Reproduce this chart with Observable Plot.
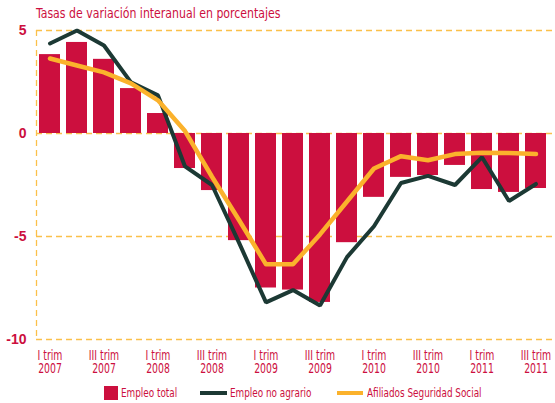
<!DOCTYPE html>
<html><head><meta charset="utf-8">
<script src="https://cdn.jsdelivr.net/npm/d3@7"></script>
<script src="https://cdn.jsdelivr.net/npm/@observablehq/plot@0.6"></script>
<style>
body{margin:0;background:#fff}
#wrap{position:relative;width:555px;height:403px;font-family:"DejaVu Sans Condensed","Liberation Sans Narrow",sans-serif;color:#cc0f3e}
#title{position:absolute;left:36px;top:5px;font-size:14.5px;white-space:nowrap;transform:scaleX(0.84);transform-origin:0 0}
#legend{position:absolute;top:385px;left:0;width:555px;height:16px;font-size:12px}
.li{position:absolute;top:0;white-space:nowrap;line-height:16px;transform:scaleX(0.82);transform-origin:0 0}
.sw{position:absolute}
svg{position:absolute;left:0;top:0}
</style></head>
<body><div id="wrap"><div id="title">Tasas de variación interanual en porcentajes</div></div>
<script>
const trimestres = ["I","II","III","IV","I","II","III","IV","I","II","III","IV","I","II","III","IV","I","II","III"];
const anios = ["2007","2007","2007","2007","2008","2008","2008","2008","2009","2009","2009","2009","2010","2010","2010","2010","2011","2011","2011"];
const empleoTotal = [3.83, 4.42, 3.6, 2.18, 0.97, -1.7, -2.77, -5.2, -7.5, -7.6, -8.2, -5.3, -3.1, -2.13, -2.04, -1.55, -2.72, -2.86, -2.67];
const empleoNoAgrario = [4.37, 5.0, 4.27, 2.48, 1.85, -1.6, -2.5, -5.3, -8.2, -7.6, -8.35, -6.0, -4.5, -2.4, -2.06, -2.5, -1.15, -3.28, -2.45];
const afiliados = [3.64, 3.3, 2.97, 2.43, 1.61, 0.12, -2.1, -4.2, -6.35, -6.35, -4.9, -3.3, -1.7, -1.1, -1.3, -1.0, -0.93, -0.95, -1.0];
const yTicks = [5, 0, -5, -10];
const series = ["Empleo total", "Empleo no agrario", "Afiliados Seguridad Social"];

const periodos = trimestres.map((t, i) => `${t} trim\n${anios[i]}`);
const xTicks = periodos.filter((p, i) => trimestres[i] === "I" || trimestres[i] === "III");

const RED = "#cc0f3e", GREEN = "#1c3934", YELLOW = "#fbb22c", GRID = "#fbc04a";
const FONT = '"DejaVu Sans Condensed","Liberation Sans Narrow",sans-serif';

const chart = Plot.plot({
  width: 555, height: 403,
  marginTop: 30, marginBottom: 64, marginLeft: 36, marginRight: 5,
  style: {fontFamily: FONT, background: "transparent"},
  x: {domain: periodos, paddingInner: 0.22, paddingOuter: 0.11, axis: null},
  y: {domain: [-10, 5], axis: null},
  marks: [
    Plot.ruleY(yTicks, {stroke: GRID, strokeWidth: 1.3, strokeDasharray: "6,4", insetRight: -5}),
    Plot.ruleX([periodos[0]], {y1: 5, y2: -10, dx: -13.5, stroke: GRID, strokeWidth: 1.3, strokeDasharray: "6,4"}),
    Plot.barY(empleoTotal, {x: (d, i) => periodos[i], y: d => d, fill: RED}),
    Plot.line(empleoNoAgrario, {x: (d, i) => periodos[i], y: d => d, stroke: GREEN, strokeWidth: 4, strokeLinejoin: "miter"}),
    Plot.line(afiliados, {x: (d, i) => periodos[i], y: d => d, stroke: YELLOW, strokeWidth: 4.5, strokeLinejoin: "round"}),
    Plot.axisY({ticks: yTicks, tickFormat: d => String(d), tickSize: 0, tickPadding: 10, fontSize: 14, fontWeight: "bold", color: RED, fontFamily: '"Liberation Sans",sans-serif'}),
    Plot.axisX({ticks: xTicks, tickSize: 0, tickPadding: 11, fontSize: 14, lineHeight: 0.92, color: RED})
  ]
});
// condense the x tick labels horizontally (reference uses a condensed face)
d3.select(chart).selectAll('g[aria-label="x-axis tick label"] text').each(function() {
  const t = this.getAttribute("transform");
  if (t && t.includes("translate")) {
    this.setAttribute("transform", t + " scale(0.74,1)");
  } else {
    const x = +this.getAttribute("x") || 0;
    this.setAttribute("transform", `translate(${x},0) scale(0.74,1) translate(${-x},0)`);
  }
});
const wrap = document.getElementById("wrap");
wrap.insertBefore(chart, wrap.firstChild);

const legend = document.createElement("div");
legend.id = "legend";
legend.innerHTML = `
  <div class="sw" style="left:104px;top:1px;width:14px;height:14px;background:${RED}"></div>
  <div class="li" style="left:121px">${series[0]}</div>
  <div class="sw" style="left:200px;top:6px;width:27px;height:4px;background:${GREEN}"></div>
  <div class="li" style="left:230px">${series[1]}</div>
  <div class="sw" style="left:337px;top:6px;width:26px;height:4px;background:${YELLOW}"></div>
  <div class="li" style="left:367px">${series[2]}</div>`;
wrap.appendChild(legend);
</script></body></html>
